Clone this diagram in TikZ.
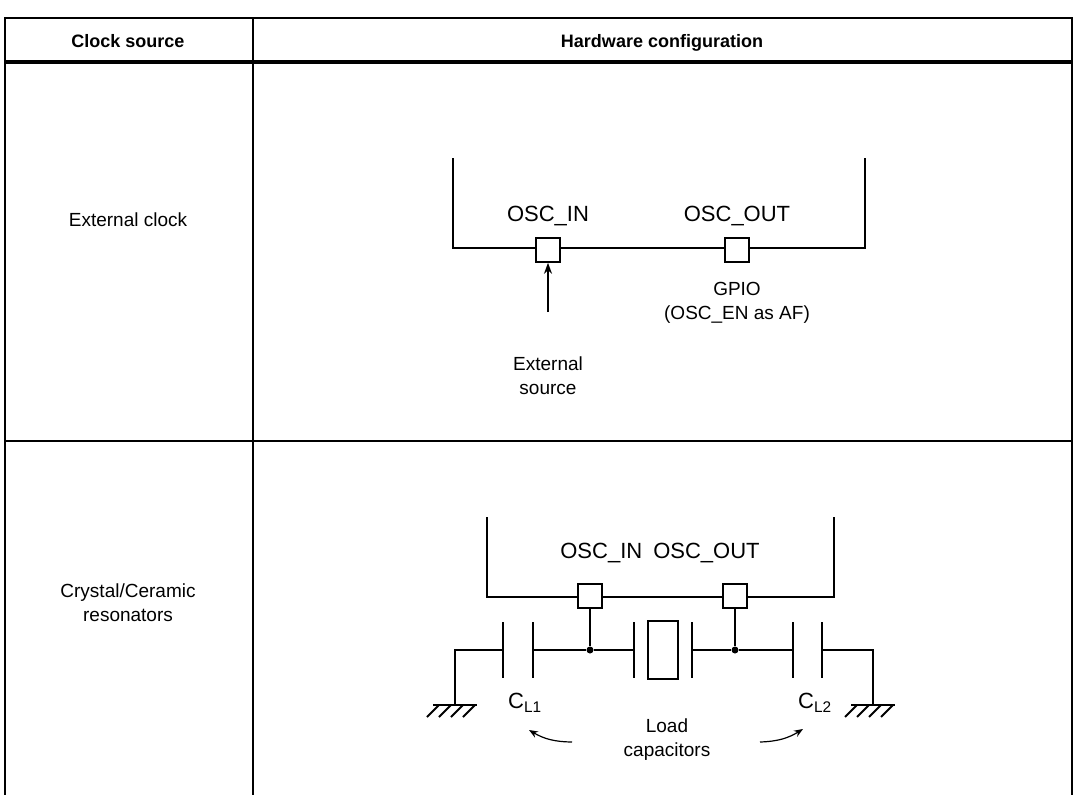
\documentclass[tikz,border=0pt]{standalone}
\usepackage{fontspec}
\setmainfont{Liberation Sans}
\usetikzlibrary{arrows.meta,calc}
\tikzset{
  lbl/.style={font=\fontsize{19}{24}\selectfont, align=center},
  big/.style={font=\fontsize{22}{26}\selectfont, align=center},
  hdr/.style={font=\bfseries\fontsize{18}{22}\selectfont, anchor=base},
  pin/.style={draw, line width=1.6pt, minimum size=24pt, inner sep=0pt, fill=white},
  chip/.style={line width=2.6pt},
  wire/.style={line width=1.8pt},
  dot/.style={circle, fill, inner sep=0pt, minimum size=7pt},
}
\newcommand{\gnd}[1]{% hatched ground under #1
  \draw[wire] ($(#1)+(-22,0)$) -- ($(#1)+(22,0)$);
  \foreach \k in {-16,-4,8,20}
    \draw[wire] ($(#1)+(\k,0)$) -- ++(-12,12);
}
\begin{document}
\begin{tikzpicture}[x=1pt,y=-1pt]
  \useasboundingbox (0,0) rectangle (1077,795);
  % table
  \draw[line width=1.2pt] (5,795) -- (5,18) -- (1072,18) -- (1072,795);
  \draw[line width=1.2pt] (253,18) -- (253,795);
  \draw[line width=3.5pt] (5,62) -- (1072,62);
  \draw[line width=1.2pt] (5,441) -- (1072,441);
  \node[hdr] (hsrc) at (128,47) {Clock source};
  \node[hdr] (hcfg) at (662,47) {Hardware configuration};
  \node[lbl] (ext) at (128,220) {External clock};
  \node[lbl] (res) at (128,603) {Crystal/Ceramic\\resonators};

  % external clock
  \draw[chip] (453,158) -- (453,248) -- (865,248) -- (865,158);
  \node[pin] (in1) at (548,250) {};
  \node[pin] (out1) at (737,250) {};
  \node[big, above=8pt] at (in1.north) {OSC\_IN};
  \node[big, above=8pt] at (out1.north) {OSC\_OUT};
  \node[lbl] (src) at (548,376) {External\\source};
  \coordinate (a1) at (548,312);
  \draw[wire, -{Stealth[length=11pt,width=8pt]}] (a1) -- (in1.south);
  \node[lbl] (gpio) at (737,303) {GPIO\\(OSC\_EN as AF)};

  % crystal / ceramic
  \draw[chip] (487,517) -- (487,597) -- (834,597) -- (834,517);
  \node[pin] (in2) at (590,596) {};
  \node[pin] (out2) at (735,596) {};
  \node[big] at (660,553) {OSC\_IN\enspace OSC\_OUT};
  \node[dot] (j1) at (590,650) {};
  \node[dot] (j2) at (735,650) {};
  \coordinate (g1) at (455,705);
  \coordinate (g2) at (873,705);
  \draw[wire] (in2.south) -- (j1);
  \draw[wire] (out2.south) -- (j2);
  % capacitors and crystal
  \draw[wire] (g1) -- (455,650) -- (503,650);
  \draw[wire] (503,622) -- (503,678) (533,622) -- (533,678);
  \draw[wire] (533,650) -- (j1) -- (634,650);
  \draw[wire] (634,622) -- (634,678) (692,622) -- (692,678);
  \draw[wire] (648,621) rectangle (678,679);
  \draw[wire] (692,650) -- (j2) -- (793,650);
  \draw[wire] (793,622) -- (793,678) (822,622) -- (822,678);
  \draw[wire] (822,650) -- (873,650) -- (g2);
  \gnd{g1}
  \gnd{g2}
  \node[big] (cl1) at (525,703) {C\textsubscript{L1}};
  \node[big] (cl2) at (815,703) {C\textsubscript{L2}};
  \node[lbl] (load) at (667,740) {Load\\capacitors};
  \coordinate (l1) at (572,742);
  \coordinate (l2) at (760,742);
  \draw[line width=1.2pt, -{Stealth[length=9pt,width=7pt]}] (l1) to[bend left=15] (529,730);
  \draw[line width=1.2pt, -{Stealth[length=9pt,width=7pt]}] (l2) to[bend right=15] (803,729);
\end{tikzpicture}
\end{document}
